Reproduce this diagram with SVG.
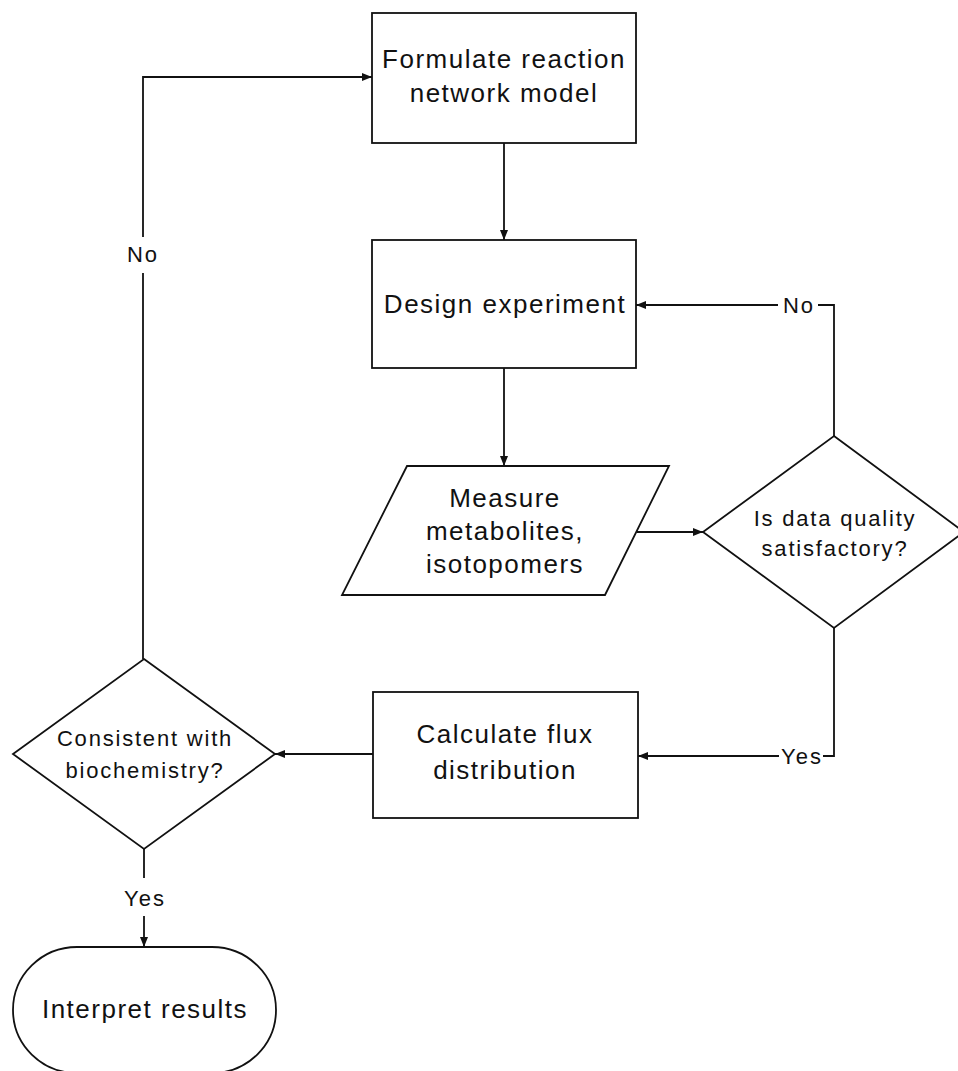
<svg xmlns="http://www.w3.org/2000/svg" width="958" height="1071" viewBox="0 0 958 1071">
  <style>
    .shape { fill: #ffffff; stroke: #111111; stroke-width: 1.8; }
    .wire { fill: none; stroke: #111111; stroke-width: 1.8; }
    .lbl { font-family: "Liberation Sans", Arial, sans-serif; font-size: 26px; letter-spacing: 1.5px; fill: #111111; text-anchor: middle; }
    .q { font-family: "Liberation Sans", Arial, sans-serif; font-size: 22px; letter-spacing: 1.8px; fill: #111111; text-anchor: middle; }
    .tag { font-family: "Liberation Sans", Arial, sans-serif; font-size: 22px; letter-spacing: 2px; fill: #111111; text-anchor: middle; }
  </style>
  <defs>
    <marker id="arrow" viewBox="0 0 10 8" refX="10" refY="4" markerWidth="10" markerHeight="8" markerUnits="userSpaceOnUse" orient="auto">
      <path d="M0,0 L10,4 L0,8 Z" fill="#111111"/>
    </marker>
  </defs>
  <rect width="958" height="1071" fill="#ffffff"/>

  <!-- connectors -->
  <g id="connectors">
    <!-- formulate -> design -->
    <line class="wire" x1="504" y1="143" x2="504" y2="240" marker-end="url(#arrow)"/>
    <!-- design -> measure -->
    <line class="wire" x1="504" y1="368" x2="504" y2="466" marker-end="url(#arrow)"/>
    <!-- measure -> data quality -->
    <line class="wire" x1="637" y1="532" x2="703" y2="532" marker-end="url(#arrow)"/>
    <!-- data quality: No -> design -->
    <polyline class="wire" points="834,436 834,305 818,305"/>
    <line class="wire" x1="778" y1="305" x2="636" y2="305" marker-end="url(#arrow)"/>
    <text class="tag" x="799" y="313">No</text>
    <!-- data quality: Yes -> calculate -->
    <polyline class="wire" points="834,628 834,756 823,756"/>
    <line class="wire" x1="779" y1="756" x2="638" y2="756" marker-end="url(#arrow)"/>
    <text class="tag" x="802" y="764">Yes</text>
    <!-- calculate -> consistent -->
    <line class="wire" x1="373" y1="754" x2="275" y2="754" marker-end="url(#arrow)"/>
    <!-- consistent: No -> formulate -->
    <polyline class="wire" points="143,659 143,273"/>
    <polyline class="wire" points="143,237 143,77 372,77" marker-end="url(#arrow)"/>
    <text class="tag" x="143" y="262">No</text>
    <!-- consistent: Yes -> interpret -->
    <line class="wire" x1="144" y1="849" x2="144" y2="878"/>
    <line class="wire" x1="144" y1="916" x2="144" y2="947" marker-end="url(#arrow)"/>
    <text class="tag" x="145" y="906">Yes</text>
  </g>

  <g id="formulate">
    <rect class="shape" x="372" y="13" width="264" height="130"/>
    <text class="lbl" x="504" y="68">Formulate reaction</text>
    <text class="lbl" x="504" y="102">network model</text>
  </g>

  <g id="design">
    <rect class="shape" x="372" y="240" width="264" height="128"/>
    <text class="lbl" x="505" y="313">Design experiment</text>
  </g>

  <g id="measure">
    <polygon class="shape" points="407,466 669,466 605,595 342,595"/>
    <text class="lbl" x="505" y="507">Measure</text>
    <text class="lbl" x="505" y="540">metabolites,</text>
    <text class="lbl" x="505" y="573">isotopomers</text>
  </g>

  <g id="quality">
    <polygon class="shape" points="834,436 964,532 834,628 703,532"/>
    <text class="q" x="835" y="526">Is data quality</text>
    <text class="q" x="835" y="556">satisfactory?</text>
  </g>

  <g id="calculate">
    <rect class="shape" x="373" y="692" width="265" height="126"/>
    <text class="lbl" x="505" y="743">Calculate flux</text>
    <text class="lbl" x="505" y="779">distribution</text>
  </g>

  <g id="consistent">
    <polygon class="shape" points="144,659 275,754 144,849 13,754"/>
    <text class="q" x="145" y="746">Consistent with</text>
    <text class="q" x="145" y="778">biochemistry?</text>
  </g>

  <g id="interpret">
    <rect class="shape" x="13" y="947" width="263" height="126" rx="64" ry="63"/>
    <text class="lbl" x="145" y="1018">Interpret results</text>
  </g>
</svg>
